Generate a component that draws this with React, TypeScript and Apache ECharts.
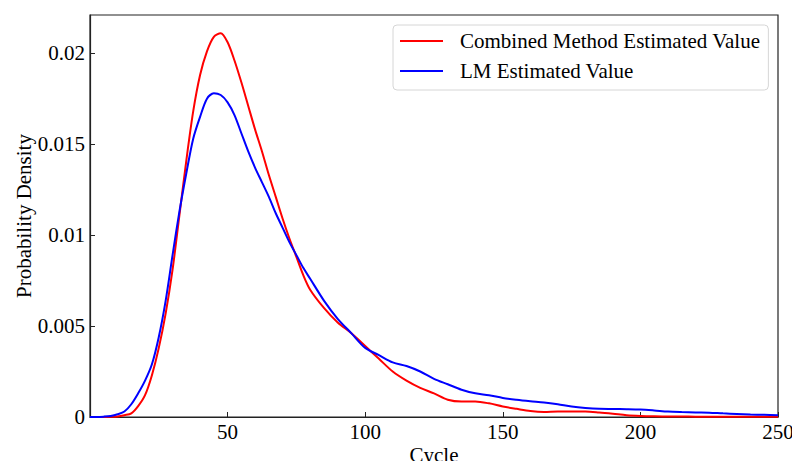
import React, { useEffect, useRef } from "react";
import * as echarts from "echarts";

const cycles = [
  0, 2.5, 5, 7.5, 10, 12.5, 15, 17.5, 20, 22.5, 25, 27.5, 30, 32.5, 35, 37.5, 40, 42.5, 45, 47.5,
  50, 52.5, 55, 57.5, 60, 62.5, 65, 67.5, 70, 72.5, 75, 77.5, 80, 85, 90, 95, 100, 105, 110, 115,
  120, 125, 130, 135, 140, 145, 150, 155, 160, 165, 170, 175, 180, 185, 190, 195, 200, 205, 210,
  215, 220, 225, 230, 235, 240, 245, 250,
];

const combinedValues = [
  0, 0, 0, 0.00001, 0.00003, 0.0001, 0.0002, 0.0006, 0.0012, 0.0023, 0.0038, 0.0057, 0.0081, 0.0111,
  0.0141, 0.0168, 0.0188, 0.0201, 0.0209, 0.0211, 0.0206, 0.0196, 0.0184, 0.0171, 0.0158, 0.0146,
  0.0133, 0.0121, 0.0109, 0.0098, 0.0088, 0.0078, 0.007, 0.006, 0.0052, 0.0046, 0.0039, 0.0032,
  0.0025, 0.002, 0.0016, 0.0013, 0.00095, 0.00085, 0.00085, 0.00075, 0.00058, 0.00045, 0.00033,
  0.00028, 0.0003, 0.0003, 0.0003, 0.00025, 0.00018, 0.0001, 0.00006, 0.00004, 0.00003, 0.00003,
  0.00002, 0.00002, 0.00002, 0.00002, 0.00002, 0.00002, 0.00002,
];

const lmValues = [
  0, 0, 0.00002, 0.00006, 0.00015, 0.0003, 0.0007, 0.0013, 0.002, 0.0029, 0.0044, 0.0064, 0.0089,
  0.0113, 0.0134, 0.0153, 0.0165, 0.0175, 0.0178, 0.0177, 0.0173, 0.0166, 0.0156, 0.0146, 0.0137,
  0.0129, 0.0121, 0.0112, 0.0104, 0.0096, 0.0089, 0.0082, 0.0076, 0.0064, 0.0054, 0.0046, 0.0038,
  0.0034, 0.003, 0.0028, 0.0025, 0.0021, 0.0018, 0.0015, 0.0013, 0.0012, 0.00105, 0.00095, 0.00087,
  0.0008, 0.0007, 0.00058, 0.0005, 0.00045, 0.00044, 0.00043, 0.00041, 0.00036, 0.0003, 0.00027,
  0.00025, 0.00024, 0.0002, 0.00017, 0.00014, 0.00012, 0.0001,
];

const seriesNames = ["Combined Method Estimated Value", "LM Estimated Value"];

const FONT = '"Liberation Serif", "Times New Roman", serif';
const FS = 21;

export default function App() {
  const ref = useRef<HTMLDivElement>(null);
  useEffect(() => {
    if (!ref.current) return;
    const chart = echarts.init(ref.current, undefined, { renderer: "svg" });
    const axisCommon = {
      axisLine: { show: true, lineStyle: { color: "#222", width: 1.2 } },
      axisTick: { show: true, inside: true, length: 5, lineStyle: { color: "#222", width: 1 } },
      splitLine: { show: false },
      axisLabel: { color: "#000", fontFamily: FONT, fontSize: FS },
      nameTextStyle: { color: "#000", fontFamily: FONT, fontSize: FS },
      nameMoveOverlap: false,
    };
    chart.setOption({
      animation: false,
      backgroundColor: "#fff",
      grid: {
        left: 90,
        right: 14,
        top: 15,
        bottom: 44,
        outerBoundsMode: "none",
        containLabel: false,
        show: true,
        borderColor: "#222",
        borderWidth: 1.2,
        backgroundColor: "transparent",
      },
      legend: {
        orient: "vertical",
        left: 393,
        top: 25,
        padding: [4, 8, 7, 7],
        itemGap: 6,
        itemWidth: 43,
        itemHeight: 2,
        icon: "rect",
        borderColor: "#d6d6d6",
        borderWidth: 1,
        borderRadius: 4,
        backgroundColor: "rgba(255,255,255,0.8)",
        textStyle: {
          color: "#000",
          fontFamily: FONT,
          fontSize: FS,
          lineHeight: 24,
          padding: [0, 0, 0, 12],
        },
        data: seriesNames,
      },
      xAxis: {
        type: "value",
        min: 0,
        max: 250,
        interval: 50,
        name: "Cycle",
        nameLocation: "middle",
        nameGap: 27,
        ...axisCommon,
        axisLabel: { ...axisCommon.axisLabel, margin: 4, showMinLabel: false },
      },
      yAxis: {
        type: "value",
        min: 0,
        max: 0.0221,
        interval: 0.005,
        name: "Probability Density",
        nameLocation: "middle",
        nameGap: 56,
        ...axisCommon,
        axisLabel: { ...axisCommon.axisLabel, margin: 5, showMaxLabel: false },
      },
      series: [
        {
          name: seriesNames[0],
          type: "line",
          symbol: "none",
          smooth: 0.3,
          lineStyle: { color: "#ff0000", width: 2 },
          itemStyle: { color: "#ff0000" },
          data: cycles.map((c, i) => [c, combinedValues[i]]),
        },
        {
          name: seriesNames[1],
          type: "line",
          symbol: "none",
          smooth: 0.3,
          lineStyle: { color: "#0000ff", width: 2 },
          itemStyle: { color: "#0000ff" },
          data: cycles.map((c, i) => [c, lmValues[i]]),
        },
      ],
    });
    return () => chart.dispose();
  }, []);
  return (
    <div
      ref={ref}
      style={{ position: "fixed", left: 0, top: 0, width: 792, height: 461, background: "#fff" }}
    />
  );
}
